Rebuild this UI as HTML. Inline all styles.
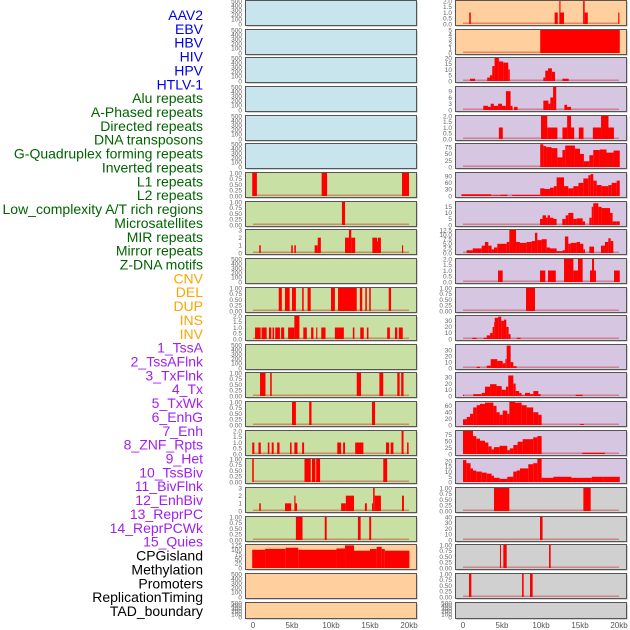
<!DOCTYPE html>
<html><head><meta charset="utf-8"><style>
html,body{margin:0;padding:0;background:#fff;}
svg{display:block;}
text{font-family:"Liberation Sans",sans-serif;}
</style></head><body>
<svg id="chart" width="630" height="630" viewBox="0 0 630 630" xmlns="http://www.w3.org/2000/svg"></svg>
<script>
// ---- labels ----
const trackLabels = ["AAV2","EBV","HBV","HIV","HPV","HTLV-1","Alu repeats","A-Phased repeats","Directed repeats","DNA transposons","G-Quadruplex forming repeats","Inverted repeats","L1 repeats","L2 repeats","Low_complexity A/T rich regions","Microsatellites","MIR repeats","Mirror repeats","Z-DNA motifs","CNV","DEL","DUP","INS","INV","1_TssA","2_TssAFlnk","3_TxFlnk","4_Tx","5_TxWk","6_EnhG","7_Enh","8_ZNF_Rpts","9_Het","10_TssBiv","11_BivFlnk","12_EnhBiv","13_ReprPC","14_ReprPCWk","15_Quies","CPGisland","Methylation","Promoters","ReplicationTiming","TAD_boundary"];
const labelGroups = [6,13,5,15,5];
const groupColors = ["#0000ee","#006400","#ffa500","#a020f0","#000000"];
const xTickValues = [0,5,10,15,20];
const xTickLabels = ["0","5kb","10kb","15kb","20kb"];

// ---- tick sets ----
const tEmpty=[0,100,200,300,400,500], tEmptyL=["0","100","200","300","400","500"];
const t01=[0,0.25,0.5,0.75,1], t01L=["0.00","0.25","0.50","0.75","1.00"];
const t02=[0,0.5,1,1.5,2], t02L=["0.0","0.5","1.0","1.5","2.0"];
const t03=[0,1,2,3], t03L=["0","1","2","3"];

// ---- left column series: [startKb, endKb, value] ----
const L6=[[-0.1,0.5,1],[8.8,9.5,1],[19.1,20,1]];
const L7=[[11.4,11.8,1]];
const L8=[[0.8,1.0,1],[4.9,5.1,1],[5.3,5.5,1],[7.9,8.3,1],[8.3,8.7,2],[11.8,12.3,2],[12.3,12.6,3],[12.6,13.1,2],[15.3,15.9,2],[15.9,16.0,1.5],[16.0,16.4,2],[19.1,19.25,1]];
const L10=[[3.3,3.7,1],[4.1,4.7,1],[5.0,5.5,1],[6.3,6.5,1],[7.0,7.4,1],[10.0,10.5,1],[10.9,13.3,1],[13.7,14.0,1],[14.4,14.6,1],[14.9,15.1,1],[17.4,17.7,1]];
const L11=[[0.26,0.98,1],[1.1,1.75,1],[2.05,2.35,1],[2.5,2.7,1],[2.85,3.45,1],[3.6,4.0,1],[4.5,5.3,1],[5.3,5.95,2],[6.45,6.9,1],[7.45,7.75,1],[8.1,8.25,1],[8.75,9.3,1],[10.5,11.65,1],[12.8,13.0,1],[13.75,14.2,1],[14.6,14.8,1],[17.2,17.55,1],[18.2,18.5,1],[18.7,19.2,1]];
const L13=[[0.9,1.6,1],[2.2,2.4,1],[13.3,13.85,1],[16.2,16.7,1],[18.5,18.8,1],[19.0,19.3,1]];
const L14=[[5.0,5.5,1],[7.2,7.5,1],[15.25,15.65,1]];
const L15=[[-0.1,0.17,1],[0.7,1.0,1],[1.9,2.1,1],[2.4,2.65,1],[3.1,3.4,1],[4.75,4.95,1],[5.3,5.7,1],[6.3,6.55,1],[10.8,11.3,1],[11.55,11.8,1],[13.1,14.15,1],[17.05,17.45,1],[17.65,18.0,1],[19.05,19.3,2],[19.75,19.95,1]];
const L16=[[-0.1,0.1,1],[6.6,7.4,1],[7.55,8.0,1],[8.1,8.6,1],[16.7,17.2,1]];
const L17=[[0.8,1.0,1],[4.1,4.9,1],[5.3,5.45,2],[5.45,5.65,1],[11.3,11.9,1],[11.9,12.95,2],[14.35,14.6,1],[15.25,15.4,1],[15.4,15.6,3],[15.6,16.4,2],[19.1,19.35,2]];
const L18=[[5.5,6.35,1],[9.2,9.45,1],[13.45,13.8,1],[14.9,15.15,1]];
const L19=[[-0.1,1.55,99],[1.55,4.2,104],[4.2,5.8,110],[5.8,10.7,99],[10.7,11.8,106],[11.8,12.95,123],[12.95,15.0,94],[15.0,15.85,103],[15.85,16.5,115],[16.5,16.9,103],[16.9,20.05,94]];

// ---- right column series ----
const R0=[[0.8,1.0,1],[11.75,12.15,1],[12.35,12.5,2],[12.5,12.95,1],[15.4,15.6,2],[15.6,16.0,1],[19.9,20.05,1]];
const R1=[[9.9,20.1,5]];
const R2=[[0.9,1.55,2],[3.1,3.45,3],[3.45,3.75,5],[3.75,4.05,13],[4.05,4.6,20],[4.6,5.15,17],[5.15,5.8,16],[5.8,6.0,10],[10.3,10.55,3],[10.55,10.9,9],[10.9,11.4,11],[11.4,11.8,8],[12.75,13.55,2]];
const R3=[[2.6,3.2,2],[3.2,3.55,1.5],[3.55,3.95,3],[3.95,4.5,2],[4.5,5.0,3],[5.0,5.5,2],[5.5,6.1,9],[6.1,6.35,2],[6.55,7.0,1.5],[10.3,10.95,4.5],[10.95,11.2,3],[11.2,11.55,6],[11.55,11.95,11],[13.0,13.35,2.5],[13.35,13.85,1.5]];
const R4=[[4.6,5.1,1],[10.0,10.8,2],[10.8,12.1,1],[12.75,13.35,1],[13.35,13.85,2],[13.85,14.25,1],[14.85,15.45,1],[16.65,17.7,1],[17.7,18.65,2],[18.65,19.35,1]];
const R5=[[9.9,10.3,87],[10.3,10.65,80],[10.65,11.35,76],[11.35,12.1,72],[12.1,12.75,37],[12.75,13.1,65],[13.1,14.35,82],[14.35,15.0,70],[15.0,15.5,50],[15.5,16.2,22],[16.2,16.7,45],[16.7,17.55,65],[17.55,18.4,67],[18.4,19.3,55],[19.3,20.1,63]];
const R6=[[-0.2,3.6,8],[3.6,4.8,3],[4.8,5.7,6],[6.3,9.9,5],[9.9,10.45,35],[10.45,11.15,32],[11.15,11.65,38],[11.65,12.0,45],[12.0,12.95,85],[12.95,13.5,45],[13.5,14.15,35],[14.15,14.8,45],[14.8,15.43,60],[15.43,16.07,80],[16.07,16.37,95],[16.37,16.7,100],[16.7,17.14,70],[17.14,17.77,50],[17.77,18.63,45],[18.63,19.06,50],[19.06,19.7,60],[19.7,20.1,70]];
const R7=[[9.87,10.2,5],[10.2,10.64,8],[10.64,10.85,6],[10.85,11.15,8],[11.15,11.6,6],[11.6,12.0,5],[12.73,13.16,5],[13.16,13.5,8],[13.5,14.15,10],[14.15,14.57,5],[14.57,15.34,5.5],[15.34,15.64,3],[16.2,16.5,6],[16.5,16.7,15],[16.7,17.35,18],[17.35,17.77,15],[17.77,18.85,14],[18.85,19.18,10],[19.18,19.7,3],[19.7,20.1,3]];
const R8=[[0.47,1.24,1.5],[1.24,2.4,2.5],[2.4,2.82,4],[2.82,3.25,6],[3.25,3.67,4],[3.67,3.97,2],[3.97,4.4,3],[4.4,5.6,5],[5.6,5.94,6],[5.94,6.8,12.5],[6.8,7.3,6],[7.3,8.16,5.5],[8.16,8.8,6],[8.8,9.23,6.5],[9.23,9.53,11],[9.53,10.08,7],[10.08,10.73,7.5],[10.73,11.15,3],[11.15,12.0,2.5],[12.0,12.77,1],[12.77,13.07,1.5],[13.07,13.5,9],[13.5,13.8,5],[13.8,14.57,5.5],[14.57,15.0,6],[15.0,15.43,5],[15.43,15.64,2],[16.2,16.8,3.5],[17.69,18.2,4],[18.2,18.63,6],[18.63,18.93,8],[18.93,19.27,6.5]];
const R9=[[4.49,5.09,1],[9.87,10.55,1],[10.9,11.9,1],[12.95,14.15,2],[14.15,14.74,1],[14.74,15.34,2],[16.28,16.54,1],[16.54,16.8,2],[16.8,17.05,1],[19.36,20.1,1]];
const R10=[[8.08,9.23,1]];
const R11=[[1.2,1.76,2],[2.62,3.04,2],[3.04,3.47,6],[3.47,3.8,10],[3.8,4.0,20],[4.0,4.07,28],[4.07,4.5,35],[4.5,4.9,37],[4.9,5.25,30],[5.25,5.55,32],[5.55,5.85,20],[5.85,6.1,8],[6.88,7.39,2]];
const R12=[[1.75,2.18,2],[3.04,3.55,4],[3.55,4.4,15],[4.4,5.09,12],[5.09,5.43,8],[5.43,5.6,15],[5.6,6.11,38],[6.11,6.45,10],[6.45,6.88,3]];
const R13=[[0.0,0.13,2],[1.32,2.4,3],[2.4,2.82,5],[2.82,3.47,15],[3.47,4.3,19],[4.3,4.96,16],[4.96,5.5,10],[5.5,5.8,15],[5.8,6.45,33],[6.45,6.75,20],[6.75,7.2,8],[7.2,7.5,5],[7.5,7.95,1],[7.95,8.6,5],[8.6,9.02,3],[9.02,9.66,8],[9.66,9.96,3],[14.45,15.34,2]];
const R14=[[0,0.47,18],[0.47,0.9,25],[0.9,1.3,35],[1.3,1.75,55],[1.75,2.18,62],[2.18,2.82,66],[2.82,3.9,70],[3.9,4.3,60],[4.3,4.7,40],[4.7,5.09,32],[5.09,5.68,45],[5.68,5.94,35],[5.94,6.67,72],[6.67,7.52,70],[7.52,8.16,62],[8.16,9.0,55],[9.0,9.66,40],[9.66,10.08,32],[15.0,15.5,3]];
const R15=[[0,1.28,90],[1.28,1.7,70],[1.7,2.18,60],[2.18,2.82,52],[2.82,3.25,45],[3.25,3.67,30],[3.67,3.97,18],[3.97,4.7,27],[4.7,5.68,32],[5.68,6.0,15],[6.0,6.45,22],[6.45,7.0,35],[7.0,7.65,48],[7.65,9.0,58],[9.0,9.53,65],[9.53,10.08,70],[15.3,18.2,5]];
const R16=[[0,0.43,21],[0.43,0.97,18],[0.97,1.28,13],[1.28,1.7,11],[1.7,2.4,10],[2.4,3.04,9],[3.04,3.67,8],[3.67,3.97,6],[3.97,4.7,4],[4.7,5.68,3],[5.68,6.45,5],[6.45,6.88,10],[6.88,7.3,11],[7.3,8.37,13],[8.37,9.0,17],[9.0,9.53,18],[9.53,10.08,22],[10.08,11.6,4],[11.6,13.9,5],[13.9,16.5,4],[16.5,18.0,5],[18.0,20.1,5]];
const R17=[[3.97,5.94,1],[15.43,16.37,1]];
const R18=[[9.87,10.2,40]];
const R19=[[4.74,4.87,1],[5.17,5.6,1],[11.03,11.24,1]];
const R20=[[0.77,1.07,1],[7.57,7.78,1],[8.59,8.93,1]];

const BLUE="#c8e4ec",GREEN="#c8e0a4",ORANGE="#ffd09e",PURPLE="#d6c6e2",GRAY="#d0d0d0";
const leftPanels=[
 [[],500,tEmpty,tEmptyL,BLUE],[[],500,tEmpty,tEmptyL,BLUE],[[],500,tEmpty,tEmptyL,BLUE],[[],500,tEmpty,tEmptyL,BLUE],[[],500,tEmpty,tEmptyL,BLUE],[[],500,tEmpty,tEmptyL,BLUE],
 [L6,1,t01,t01L,GREEN],[L7,1,t01,t01L,GREEN],[L8,3,t03,t03L,GREEN],[[],500,tEmpty,tEmptyL,GREEN],[L10,1,t01,t01L,GREEN],[L11,2,t02,t02L,GREEN],
 [[],500,tEmpty,tEmptyL,GREEN],[L13,1,t01,t01L,GREEN],[L14,1,t01,t01L,GREEN],[L15,2,t02,t02L,GREEN],[L16,1,t01,t01L,GREEN],[L17,3,t03,t03L,GREEN],[L18,1,t01,t01L,GREEN],
 [L19,125,[0,25,50,75,100,125],["0","25","50","75","100","125"],ORANGE],[[],500,tEmpty,tEmptyL,ORANGE],[[],500,tEmpty,tEmptyL,ORANGE]];
const rightPanels=[
 [R0,2,t02,t02L,ORANGE],[R1,5,[0,1,2,3,4,5],["0","1","2","3","4","5"],ORANGE],
 [R2,20,[0,5,10,15,20],["0","5","10","15","20"],PURPLE],[R3,11,[0,3,6,9],["0","3","6","9"],PURPLE],[R4,2,t02,t02L,PURPLE],
 [R5,88,[0,25,50,75],["0","25","50","75"],PURPLE],[R6,105,[0,30,60,90],["0","30","60","90"],PURPLE],[R7,19,[0,5,10,15],["0","5","10","15"],PURPLE],
 [R8,12.5,[0,2.5,5,7.5,10,12.5],["0.0","2.5","5.0","7.5","10.0","12.5"],PURPLE],[R9,2,t02,t02L,PURPLE],[R10,1,t01,t01L,PURPLE],
 [R11,38,[0,10,20,30],["0","10","20","30"],PURPLE],[R12,39,[0,10,20,30],["0","10","20","30"],PURPLE],[R13,37,[0,10,20,30],["0","10","20","30"],PURPLE],
 [R14,72,[0,20,40,60],["0","20","40","60"],PURPLE],[R15,90,[0,25,50,75],["0","25","50","75"],PURPLE],[R16,22,[0,5,10,15,20],["0","5","10","15","20"],PURPLE],
 [R17,1,t01,t01L,GRAY],[R18,40,[0,10,20,30,40],["0","10","20","30","40"],GRAY],[R19,1,t01,t01L,GRAY],[R20,1,t01,t01L,GRAY],[[],500,tEmpty,tEmptyL,GRAY]];

const NS="http://www.w3.org/2000/svg";
const svg=document.getElementById("chart");
function mk(tag,attrs,parent){const e=document.createElementNS(NS,tag);for(const k in attrs)e.setAttribute(k,attrs[k]);(parent||svg).appendChild(e);return e;}

let li=0;
labelGroups.forEach((n,g)=>{for(let j=0;j<n;j++){
  const t=mk("text",{x:203,y:15+li*13.86+5,"text-anchor":"end","font-size":"14",fill:groupColors[g]});
  t.textContent=trackLabels[li];
  
  
  li++;}});

function xScale(colX0,kb){return colX0+8+kb*7.8;}
function drawColumn(panels,px,name){
  const W=171;
  panels.forEach((p,i)=>{
    const top=Math.round(i*28.65), h=(i===21)?16:25;
    const g=mk("g",{});
    
    
    mk("rect",{x:px+1.5,y:top+1.5,width:W,height:h,fill:"#aaa"},g);
    mk("rect",{x:px+0.5,y:top+0.5,width:W,height:h,fill:p[4],stroke:"#555","stroke-width":1},g);
    const y0=top+h-1, yr=h-2;
    const ys=v=>y0-v/p[1]*yr;
    if(p[0].length) mk("rect",{x:xScale(px,0),y:y0-1.5,width:20*7.8,height:1.5,fill:"rgba(200,40,40,0.45)"},g);
    p[0].forEach(s=>{
      const x1=xScale(px,s[0]),x2=xScale(px,s[1]),yt=ys(s[2]);
      const r=mk("rect",{x:x1,y:yt,width:Math.max(1,x2-x1),height:y0-yt,fill:"#ff0000"},g);
      
      
    });
    p[2].forEach((tv,k)=>{
      const t=mk("text",{x:px-3,y:ys(tv)+2.3,"text-anchor":"end","font-size":"6.5",fill:"#666"},g);
      t.textContent=p[3][k];
      
      
    });
  });
  xTickValues.forEach((v,k)=>{
    const t=mk("text",{x:xScale(px,v),y:628,"text-anchor":"middle","font-size":"8",fill:"#555"});
    t.textContent=xTickLabels[k];
    
    
  });
}
drawColumn(leftPanels,245,"left");
drawColumn(rightPanels,455,"right");
</script>
</body></html>
